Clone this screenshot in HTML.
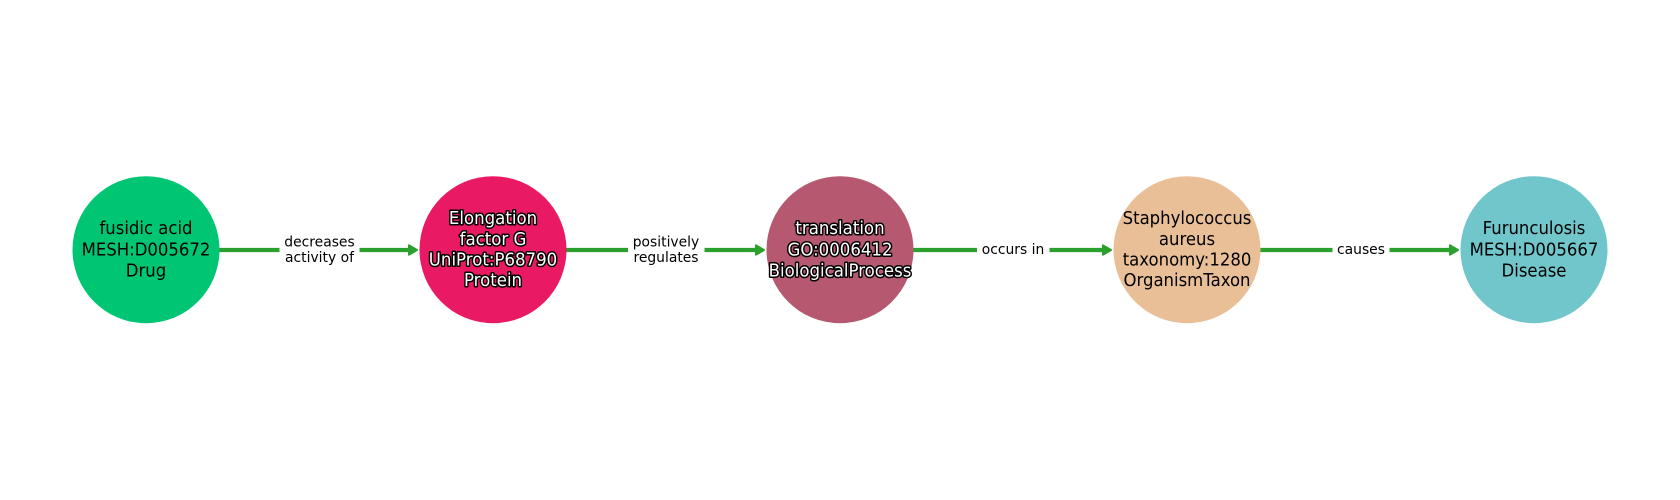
<!DOCTYPE html>
<html>
<head>
<meta charset="utf-8">
<style>
html,body{margin:0;padding:0;background:#fff;width:1680px;height:500px;overflow:hidden}
svg{display:block}
text{font-family:"DejaVu Sans",sans-serif;text-anchor:middle}
.n{font-size:16.67px;fill:#000}
.w{font-size:16.67px;fill:#fff;stroke:#000;stroke-width:2.9px;paint-order:stroke;stroke-linejoin:round}
.e{font-size:13.89px;fill:#000}
.l{stroke:#2ca02c;stroke-width:4.2;fill:none}
.h{fill:#2ca02c;stroke:#2ca02c;stroke-width:2;stroke-linejoin:round}
</style>
</head>
<body>
<svg width="1680" height="500" viewBox="0 0 1680 500" xmlns="http://www.w3.org/2000/svg">
<rect width="1680" height="500" fill="#fff"/>

<line class="l" x1="219" y1="250" x2="279.5" y2="250"/>
<line class="l" x1="359.5" y1="250" x2="410" y2="250"/>
<polygon class="h" points="409,245.3 417,250 409,254.7"/>

<line class="l" x1="566" y1="250" x2="628" y2="250"/>
<line class="l" x1="704.5" y1="250" x2="757" y2="250"/>
<polygon class="h" points="756,245.3 764,250 756,254.7"/>

<line class="l" x1="913" y1="250" x2="977" y2="250"/>
<line class="l" x1="1049.5" y1="250" x2="1104" y2="250"/>
<polygon class="h" points="1103,245.3 1111,250 1103,254.7"/>

<line class="l" x1="1260" y1="250" x2="1332.5" y2="250"/>
<line class="l" x1="1389.5" y1="250" x2="1451" y2="250"/>
<polygon class="h" points="1450,245.3 1458,250 1450,254.7"/>

<circle cx="146" cy="249.7" r="73.5" fill="#00c573"/>
<circle cx="493" cy="249.7" r="73.5" fill="#e91a63"/>
<circle cx="840" cy="249.7" r="73.5" fill="#b55870"/>
<circle cx="1187" cy="249.7" r="73.5" fill="#e9bf98"/>
<circle cx="1534" cy="249.7" r="73.5" fill="#71c6cb"/>

<text class="n" transform="translate(146 234) scale(.99 1.05)">fusidic acid</text>
<text class="n" transform="translate(146 255.3) scale(.99 1.05)">MESH:D005672</text>
<text class="n" transform="translate(146 276.4) scale(.99 1.05)">Drug</text>

<text class="w" transform="translate(493 224) scale(.995 1.05)">Elongation</text>
<text class="w" transform="translate(493 245) scale(.995 1.05)">factor G</text>
<text class="w" transform="translate(493 265.5) scale(.995 1.05)">UniProt:P68790</text>
<text class="w" transform="translate(493 286) scale(.995 1.05)">Protein</text>

<text class="w" transform="translate(840 234) scale(.995 1.05)">translation</text>
<text class="w" transform="translate(840 255.3) scale(.995 1.05)">GO:0006412</text>
<text class="w" transform="translate(840 276.4) scale(.995 1.05)">BiologicalProcess</text>

<text class="n" transform="translate(1187 224) scale(.99 1.05)">Staphylococcus</text>
<text class="n" transform="translate(1187 245) scale(.99 1.05)">aureus</text>
<text class="n" transform="translate(1187 265.5) scale(.99 1.05)">taxonomy:1280</text>
<text class="n" transform="translate(1187 286) scale(.99 1.05)">OrganismTaxon</text>

<text class="n" transform="translate(1534 234) scale(.99 1.05)">Furunculosis</text>
<text class="n" transform="translate(1534 255.3) scale(.99 1.05)">MESH:D005667</text>
<text class="n" transform="translate(1534 276.4) scale(.99 1.05)">Disease</text>

<text class="e" x="319.5" y="246.3">decreases</text>
<text class="e" x="319.5" y="262">activity of</text>
<text class="e" x="666" y="246.3">positively</text>
<text class="e" x="666" y="262">regulates</text>
<text class="e" x="1013" y="254">occurs in</text>
<text class="e" x="1361" y="254">causes</text>
</svg>
</body>
</html>
